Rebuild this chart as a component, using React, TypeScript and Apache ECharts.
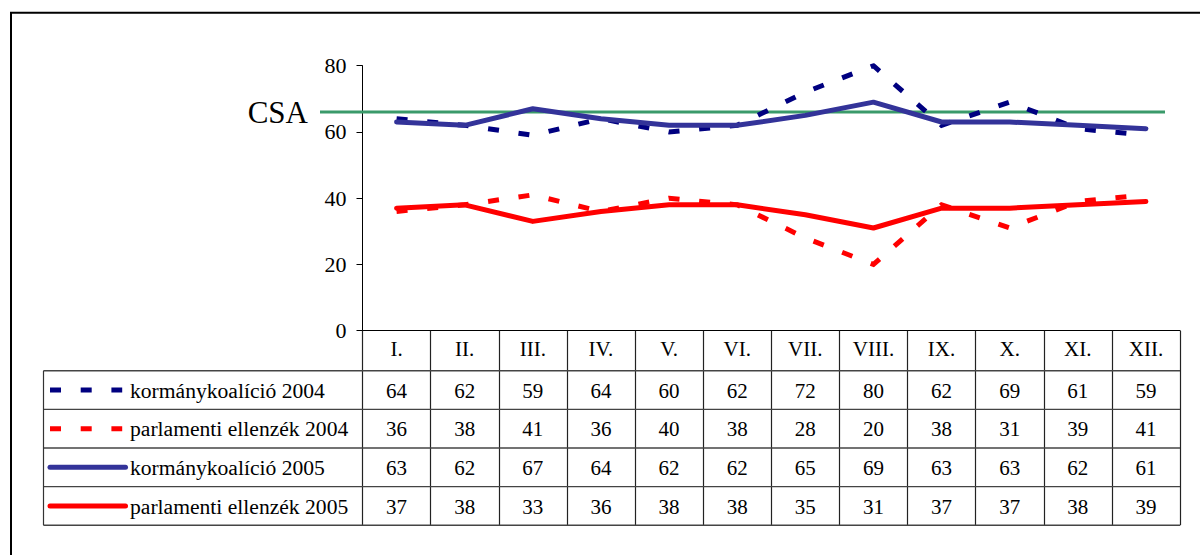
import React, { useEffect, useRef } from "react";
import * as echarts from "echarts";

const months = ["I.", "II.", "III.", "IV.", "V.", "VI.", "VII.", "VIII.", "IX.", "X.", "XI.", "XII."];
const korm2004 = [64, 62, 59, 64, 60, 62, 72, 80, 62, 69, 61, 59];
const ell2004 = [36, 38, 41, 36, 40, 38, 28, 20, 38, 31, 39, 41];
const korm2005 = [63, 62, 67, 64, 62, 62, 65, 69, 63, 63, 62, 61];
const ell2005 = [37, 38, 33, 36, 38, 38, 35, 31, 37, 37, 38, 39];
const yTicks = [0, 20, 40, 60, 80];
const csaValue = 66;
const csaLabel = "CSA";

const seriesDefs = [
  { name: "kormánykoalíció 2004", data: korm2004, color: "#000080", dashed: true },
  { name: "parlamenti ellenzék 2004", data: ell2004, color: "#ff0000", dashed: true },
  { name: "kormánykoalíció 2005", data: korm2005, color: "#333399", dashed: false },
  { name: "parlamenti ellenzék 2005", data: ell2005, color: "#ff0000", dashed: false },
];

const FONT = '"Liberation Serif", "Times New Roman", serif';
const DASH = [11, 19.7];

export default function App() {
  const ref = useRef<HTMLDivElement>(null);

  useEffect(() => {
    if (!ref.current) return;
    const chart = echarts.init(ref.current, null, { renderer: "svg" });
    const headerH = 40;
    const rowH = 38.65;
    const tableH = headerH + rowH * seriesDefs.length;

    chart.setOption({
      animation: false,
      backgroundColor: "#ffffff",
      grid: { left: 362.5, right: 20, top: 65.7, bottom: 224.3, containLabel: false },
      xAxis: {
        type: "category",
        data: months,
        boundaryGap: true,
        axisLine: { show: true, lineStyle: { color: "#000", width: 1 } },
        axisTick: { show: true, interval: 0, length: tableH, lineStyle: { color: "#222", width: 1.2 } },
        axisLabel: {
          interval: 0,
          margin: 6,
          fontFamily: FONT,
          fontSize: 21,
          lineHeight: 24,
          color: "#000",
        },
        splitLine: { show: false },
      },
      yAxis: {
        type: "value",
        min: yTicks[0],
        max: yTicks[yTicks.length - 1],
        interval: 20,
        axisLine: { show: true, lineStyle: { color: "#000", width: 1 } },
        axisTick: { show: true, length: 6, lineStyle: { color: "#000", width: 1 } },
        axisLabel: { margin: 16, fontFamily: FONT, fontSize: 22, color: "#000" },
        splitLine: { show: false },
      },
      series: seriesDefs.map((s) => ({
        name: s.name,
        type: "line",
        data: s.data,
        symbol: "none",
        z: 3,
        lineStyle: {
          color: s.color,
          width: 5,
          type: s.dashed ? DASH : "solid",
          cap: s.dashed ? "butt" : "round",
          join: s.dashed ? "miter" : "round",
        },
      })),
    });

    const axisY = chart.convertToPixel({ yAxisIndex: 0 }, 0) as number;
    const csaY = chart.convertToPixel({ yAxisIndex: 0 }, csaValue) as number;
    const x0 = chart.convertToPixel({ xAxisIndex: 0 }, months[0]) as number;
    const x1 = chart.convertToPixel({ xAxisIndex: 0 }, months[1]) as number;
    const colW = x1 - x0;
    const leftEdge = x0 - colW / 2;
    const rightEdge = leftEdge + colW * months.length;
    const tableLeft = 43.5;
    const headerBottom = axisY + headerH;

    const graphics: any[] = [];
    graphics.push({
      type: "polyline",
      z: 0,
      shape: { points: [[11, 560], [11, 12.7], [1205, 12.7]] },
      style: { fill: "none", stroke: "#000", lineWidth: 2 },
    });
    graphics.push({
      type: "line",
      z: 1,
      shape: { x1: 320, y1: csaY, x2: 1165, y2: csaY },
      style: { stroke: "#3a9a6a", lineWidth: 3 },
    });
    graphics.push({
      type: "text",
      z: 5,
      x: 308,
      y: csaY,
      style: {
        text: csaLabel,
        font: `31px ${FONT}`,
        fill: "#000",
        textAlign: "right",
        textVerticalAlign: "middle",
        align: "right",
        verticalAlign: "middle",
      },
    });
    for (let r = 0; r <= seriesDefs.length; r++) {
      const y = headerBottom + r * rowH;
      graphics.push({
        type: "line",
        z: 5,
        shape: { x1: tableLeft, y1: y, x2: rightEdge, y2: y },
        style: { stroke: "#444", lineWidth: 1.4 },
      });
    }
    graphics.push({
      type: "line",
      z: 5,
      shape: { x1: tableLeft, y1: headerBottom, x2: tableLeft, y2: headerBottom + rowH * seriesDefs.length },
      style: { stroke: "#333", lineWidth: 1.2 },
    });
    seriesDefs.forEach((s, r) => {
      const cy = headerBottom + r * rowH + rowH / 2;
      if (s.dashed) {
        graphics.push({
          type: "line",
          z: 5,
          shape: { x1: 50, y1: cy, x2: 122.2, y2: cy },
          style: { stroke: s.color, lineWidth: 5, lineDash: DASH, lineCap: "butt" },
        });
      } else {
        graphics.push({
          type: "line",
          z: 5,
          shape: { x1: 50, y1: cy, x2: 125.5, y2: cy },
          style: { stroke: s.color, lineWidth: 5, lineCap: "round" },
        });
      }
      graphics.push({
        type: "text",
        z: 5,
        x: 130,
        y: cy + 0.8,
        style: {
          text: s.name,
          font: `21.6px ${FONT}`,
          fill: "#000",
          textAlign: "left",
          textVerticalAlign: "middle",
          align: "left",
          verticalAlign: "middle",
        },
      });
      s.data.forEach((v, i) => {
        const cx = chart.convertToPixel({ xAxisIndex: 0 }, months[i]) as number;
        graphics.push({
          type: "text",
          z: 5,
          x: cx,
          y: cy + 0.8,
          style: {
            text: String(v),
            font: `21px ${FONT}`,
            fill: "#000",
            textAlign: "center",
            textVerticalAlign: "middle",
            align: "center",
            verticalAlign: "middle",
          },
        });
      });
    });

    chart.setOption({ graphic: { elements: graphics } });

    return () => {
      chart.dispose();
    };
  }, []);

  return (
    <div
      ref={ref}
      style={{ position: "absolute", left: 0, top: 0, width: 1200, height: 555, background: "#fff" }}
    />
  );
}
